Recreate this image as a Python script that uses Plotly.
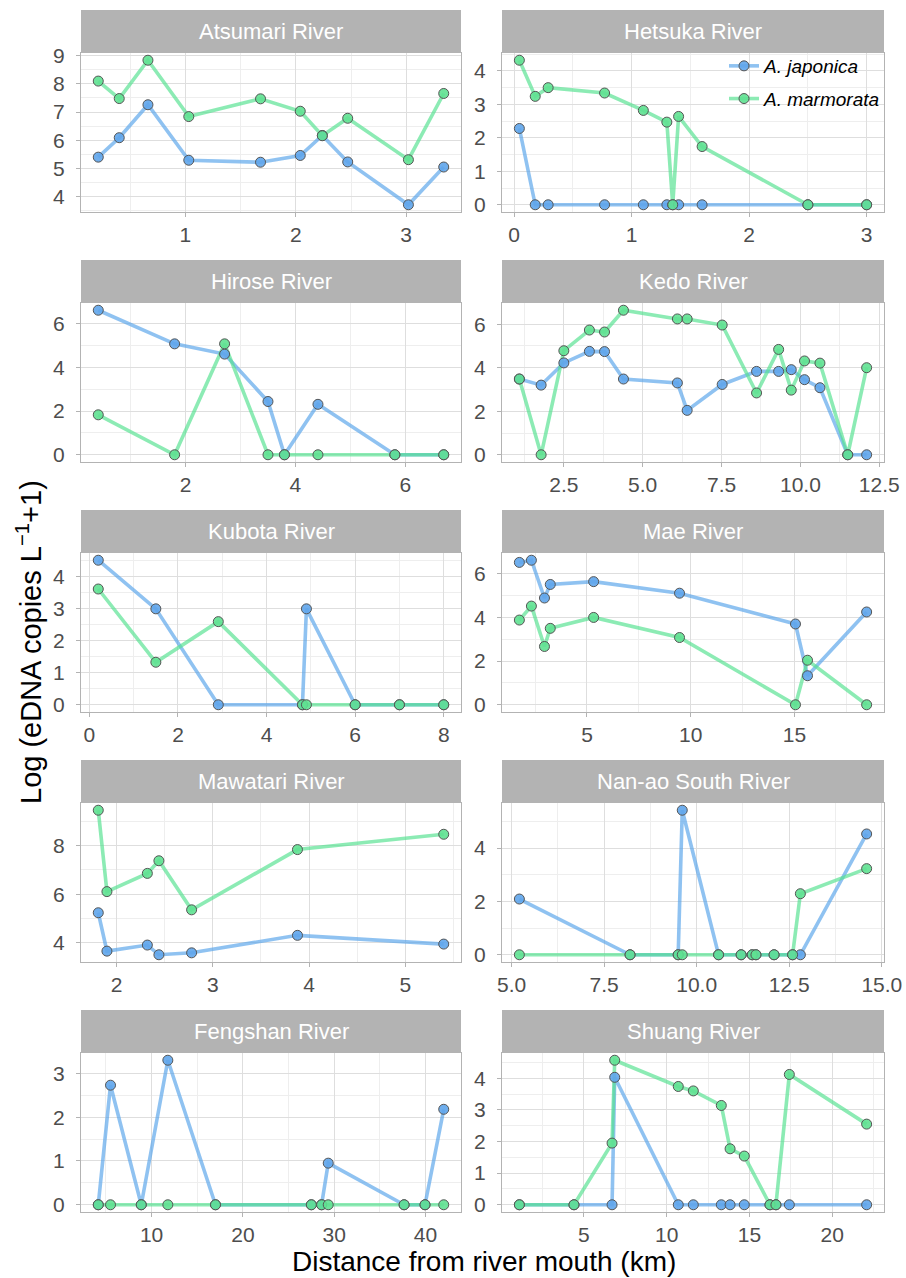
import plotly.graph_objects as go
from plotly.subplots import make_subplots

W, H = 906, 1278

# ---------------- data ----------------
river_names = ["Atsumari River", "Hetsuka River", "Hirose River", "Kedo River",
               "Kubota River", "Mae River", "Mawatari River", "Nan-ao South River",
               "Fengshan River", "Shuang River"]
species = ["A. japonica", "A. marmorata"]

atsumari_km = [0.21, 0.40, 0.66, 1.03, 1.68, 2.04, 2.24, 2.47, 3.02, 3.34]
atsumari_jap = [5.40, 6.09, 7.26, 5.29, 5.22, 5.46, 6.17, 5.23, 3.71, 5.05]
atsumari_mar = [8.10, 7.48, 8.84, 6.84, 7.47, 7.03, 6.16, 6.78, 5.31, 7.66]

hetsuka_km = [0.045, 0.18, 0.29, 0.77, 1.10, 1.30, 1.35, 1.40, 1.60, 2.50, 3.00]
hetsuka_jap = [2.28, 0, 0, 0, 0, 0, 0, 0, 0, 0, 0]
hetsuka_mar = [4.32, 3.24, 3.50, 3.34, 2.82, 2.47, 0, 2.64, 1.74, 0, 0]

hirose_km = [0.41, 1.80, 2.71, 3.50, 3.80, 4.41, 5.81, 6.70]
hirose_jap = [6.62, 5.08, 4.61, 2.44, 0, 2.31, 0, 0]
hirose_mar = [1.83, 0, 5.08, 0, 0, 0, 0, 0]

kedo_km = [1.09, 1.78, 2.50, 3.31, 3.79, 4.39, 6.10, 6.41, 7.52, 8.61, 9.31, 9.71,
           10.13, 10.62, 11.50, 12.10]
kedo_jap = [3.48, 3.20, 4.22, 4.75, 4.74, 3.48, 3.30, 2.04, 3.23, 3.83, 3.83, 3.91,
            3.45, 3.08, 0, 0]
kedo_mar = [3.48, 0, 4.78, 5.73, 5.64, 6.64, 6.24, 6.24, 5.96, 2.84, 4.84, 2.97,
            4.31, 4.21, 0, 4.00]

kubota_km = [0.20, 1.50, 2.91, 4.81, 4.90, 6.00, 7.00, 8.00]
kubota_jap = [4.52, 3.00, 0, 0, 3.00, 0, 0, 0]
kubota_mar = [3.62, 1.33, 2.60, 0, 0, 0, 0, 0]

mae_km = [1.74, 2.32, 2.95, 3.23, 5.32, 9.46, 15.05, 15.63, 18.48]
mae_jap = [6.52, 6.62, 4.89, 5.51, 5.64, 5.11, 3.70, 1.33, 4.25]
mae_mar = [3.88, 4.52, 2.67, 3.50, 4.00, 3.08, 0, 2.04, 0]

mawatari_km = [1.81, 1.90, 2.32, 2.44, 2.78, 3.88, 5.40]
mawatari_jap = [5.24, 3.66, 3.91, 3.51, 3.59, 4.31, 3.95]
mawatari_mar = [9.46, 6.11, 6.86, 7.38, 5.36, 7.84, 8.47]

nanao_km = [5.21, 8.20, 9.50, 9.61, 10.59, 11.20, 11.50, 11.60, 12.09, 12.59, 12.80, 14.59]
nanao_jap = [2.09, 0, 0, 5.42, 0, 0, 0, 0, 0, 0, 0, 4.53]
nanao_mar = [0, 0, 0, 0, 0, 0, 0, 0, 0, 0, 2.29, 3.23]

fengshan_km = [4.16, 5.50, 8.87, 11.78, 17.00, 27.50, 28.62, 29.35, 37.66, 39.95, 42.00]
fengshan_jap = [0, 2.73, 0, 3.30, 0, 0, 0, 0.95, 0, 0, 2.18]
fengshan_mar = [0, 0, 0, 0, 0, 0, 0, 0, 0, 0, 0]

shuang_km = [1.10, 4.40, 6.70, 6.86, 10.70, 11.61, 13.30, 13.83, 14.69, 16.24, 16.60,
             17.41, 22.08]
shuang_jap = [0, 0, 0, 4.03, 0, 0, 0, 0, 0, 0, 0, 0, 0]
shuang_mar = [0, 0, 1.95, 4.57, 3.74, 3.60, 3.14, 1.77, 1.54, 0, 0, 4.12, 2.55]

# tick steps (major) for each panel: x, y
x_steps = [1, 1, 2, 2.5, 2, 5, 1, 2.5, 10, 5]
y_steps = [1, 1, 2, 2, 1, 2, 2, 2, 1, 1]
x_formats = ["", "", "", ".1f", "", "", "", ".1f", "", ""]

panels = [
    (atsumari_km, atsumari_jap, atsumari_mar),
    (hetsuka_km, hetsuka_jap, hetsuka_mar),
    (hirose_km, hirose_jap, hirose_mar),
    (kedo_km, kedo_jap, kedo_mar),
    (kubota_km, kubota_jap, kubota_mar),
    (mae_km, mae_jap, mae_mar),
    (mawatari_km, mawatari_jap, mawatari_mar),
    (nanao_km, nanao_jap, nanao_mar),
    (fengshan_km, fengshan_jap, fengshan_mar),
    (shuang_km, shuang_jap, shuang_mar),
]

# ---------------- style ----------------
FONT = "Liberation Sans, Arial, Helvetica, sans-serif"
line_cols = ["rgba(90,165,235,0.68)", "rgba(85,225,145,0.68)"]
fill_cols = ["rgba(95,165,235,0.9)", "rgba(95,225,145,0.9)"]
grey70 = "#b3b3b3"

col_x = [(81, 461), (502, 884)]
row_top = [10, 260, 510, 760, 1010]
STRIP_H = 43
PANEL_BOTTOM = 202


def expand(vals):
    lo, hi = min(vals), max(vals)
    pad = 0.05 * (hi - lo) if hi > lo else 0.5
    return [lo - pad, hi + pad]


fig = make_subplots(rows=5, cols=2)

for i, (km, jap, mar) in enumerate(panels):
    r, c = i // 2 + 1, i % 2 + 1
    # lines first (japonica, marmorata), then points
    for s, vals in enumerate([jap, mar]):
        fig.add_trace(go.Scatter(x=km, y=vals, mode="lines",
                                 line=dict(color=line_cols[s], width=3.6),
                                 showlegend=False, hoverinfo="skip"), row=r, col=c)
    for s, vals in enumerate([jap, mar]):
        fig.add_trace(go.Scatter(x=km, y=vals, mode="markers",
                                 marker=dict(size=10, color=fill_cols[s],
                                             line=dict(color="#555555", width=1)),
                                 name=species[s], showlegend=False), row=r, col=c)

    x0, x1 = col_x[c - 1]
    top = row_top[r - 1]
    ydom = [1 - (top + PANEL_BOTTOM) / H, 1 - (top + STRIP_H) / H]
    fig.update_xaxes(row=r, col=c, domain=[x0 / W, x1 / W], range=expand(km),
                     automargin=False,
                     tickmode="linear", tick0=0, dtick=x_steps[i], tickformat=x_formats[i],
                     showgrid=True, gridcolor="#dedede", gridwidth=1,
                     minor=dict(tick0=0, dtick=x_steps[i] / 2, showgrid=True,
                                gridcolor="#eeeeee", gridwidth=0.6),
                     showline=True, mirror=True, linecolor=grey70, linewidth=1,
                     ticks="outside", ticklen=4, tickcolor=grey70, tickwidth=1,
                     tickfont=dict(size=21, color="#4d4d4d", family=FONT),
                     zeroline=False, ticklabelstandoff=0)
    fig.update_yaxes(row=r, col=c, domain=ydom, range=expand(jap + mar),
                     automargin=False,
                     tickmode="linear", tick0=0, dtick=y_steps[i],
                     showgrid=True, gridcolor="#dedede", gridwidth=1,
                     minor=dict(tick0=0, dtick=y_steps[i] / 2, showgrid=True,
                                gridcolor="#eeeeee", gridwidth=0.6),
                     showline=True, mirror=True, linecolor=grey70, linewidth=1,
                     ticks="outside", ticklen=4, tickcolor=grey70, tickwidth=1,
                     tickfont=dict(size=21, color="#4d4d4d", family=FONT),
                     zeroline=False, ticklabelstandoff=7)

    # facet strip
    fig.add_shape(type="rect", xref="paper", yref="paper",
                  x0=x0 / W, x1=x1 / W, y0=1 - (top + STRIP_H) / H, y1=1 - top / H,
                  fillcolor=grey70, line=dict(width=0), layer="above")
    fig.add_annotation(xref="paper", yref="paper", x=(x0 + x1) / 2 / W,
                       y=1 - (top + STRIP_H / 2) / H, text=river_names[i],
                       showarrow=False, xanchor="center", yanchor="middle",
                       font=dict(size=22, color="white", family=FONT))

# legend entries (line + point glyphs)
for s in range(2):
    fig.add_trace(go.Scatter(x=[None], y=[None], mode="lines+markers",
                             name="<i>" + species[s] + "</i>", legendgroup=species[s],
                             line=dict(color=line_cols[s], width=3.6),
                             marker=dict(size=10, color=fill_cols[s],
                                         line=dict(color="#555555", width=1))),
                  row=1, col=2)

# axis titles
fig.add_annotation(xref="paper", yref="paper", x=484 / W, y=1 - 1261 / H,
                   text="Distance from river mouth (km)", showarrow=False,
                   xanchor="center", yanchor="middle",
                   font=dict(size=28, color="black", family=FONT))
fig.add_annotation(xref="paper", yref="paper", x=29 / W, y=1 - 642 / H,
                   text="Log (eDNA copies L<sup>\u22121</sup>+1)", showarrow=False,
                   textangle=-90, xanchor="center", yanchor="middle",
                   font=dict(size=29, color="black", family=FONT))

fig.update_layout(
    width=W, height=H, autosize=False,
    margin=dict(l=0, r=0, t=0, b=0, pad=0),
    paper_bgcolor="white", plot_bgcolor="white",
    font=dict(family=FONT),
    legend=dict(x=724 / W, y=1 - 47 / H, xanchor="left", yanchor="top",
                bgcolor="rgba(0,0,0,0)", tracegroupgap=5,
                font=dict(size=19, color="black", family=FONT)),
)

fig.write_html("out.html", config={"displayModeBar": False},
               post_script="document.body.style.margin='0';")
